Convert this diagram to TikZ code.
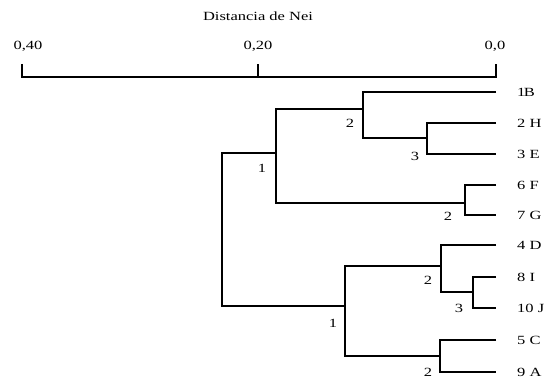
\documentclass[tikz,border=0pt]{standalone}
\usepackage{fontspec}
\setmainfont{Liberation Serif}[FakeStretch=1.32]
\begin{document}
\begin{tikzpicture}[x=1pt,y=-1pt,
  branch/.style={line width=1.3pt,line join=miter},
  axisline/.style={line width=1.2pt},
  leaflab/.style={anchor=west,inner sep=0pt,font=\fontsize{12.5}{14}\selectfont},
  numlab/.style={inner sep=0pt,font=\fontsize{12.5}{14}\selectfont},
  ticklab/.style={inner sep=0pt,font=\fontsize{12.5}{14}\selectfont},
  titlelab/.style={inner sep=0pt,font=\fontsize{12.5}{14}\selectfont}]
\useasboundingbox (0,0) rectangle (550,379);
% axis
\node[titlelab] (title) at (258,16) {Distancia de Nei};
\node[ticklab] (t40) at (28,46) {0,40};
\node[ticklab] (t20) at (258,46) {0,20};
\node[ticklab] (t0) at (495,46) {0,0};
\coordinate (a40) at (22,77);
\coordinate (a20) at (258,77);
\coordinate (a0) at (496,77);
\coordinate (a40t) at (22,64);
\coordinate (a20t) at (258,64);
\coordinate (a0t) at (496,64);
\draw[axisline] (a40t) -- (a40) -- (a0) -- (a0t);
\draw[axisline] (a20) -- (a20t);
% leaves
\foreach \n/\y/\t in {1B/92/1\kern-1.5pt B,2H/123/2 H,3E/154/3 E,6F/185/6 F,7G/215/7 G,4D/245/4 D,8I/277/8 I,10J/308/10 J,5C/340/5 C,9A/372/9 A}{
  \coordinate (l\n) at (496,\y);
  \node[leaflab] (n\n) at (517,\y) {\t};
}
% clusters (x = join, y = where parent attaches)
\coordinate (ca) at (427,138);
\coordinate (cb) at (363,109);
\coordinate (cc) at (465,203);
\coordinate (cd) at (276,153);
\coordinate (ch) at (473,292);
\coordinate (cf) at (441,266);
\coordinate (cg) at (440,356);
\coordinate (ce) at (345,306);
\coordinate (croot) at (222,230);
\draw[branch] (l2H) -| (ca) |- (l3E);
\draw[branch] (l1B) -| (cb) |- (ca);
\draw[branch] (l6F) -| (cc) |- (l7G);
\draw[branch] (cb) -| (cd) |- (cc);
\draw[branch] (l8I) -| (ch) |- (l10J);
\draw[branch] (l4D) -| (cf) |- (ch);
\draw[branch] (l5C) -| (cg) |- (l9A);
\draw[branch] (cf) -| (ce) |- (cg);
\draw[branch] (cd) -| (croot) |- (ce);
% node numbers
\node[numlab] (k1) at (350,123) {2};
\node[numlab] (k2) at (415,156) {3};
\node[numlab] (k3) at (262,168) {1};
\node[numlab] (k4) at (448,216) {2};
\node[numlab] (k5) at (428,280) {2};
\node[numlab] (k6) at (459,308) {3};
\node[numlab] (k7) at (333,323) {1};
\node[numlab] (k8) at (428,372) {2};
\end{tikzpicture}
\end{document}
